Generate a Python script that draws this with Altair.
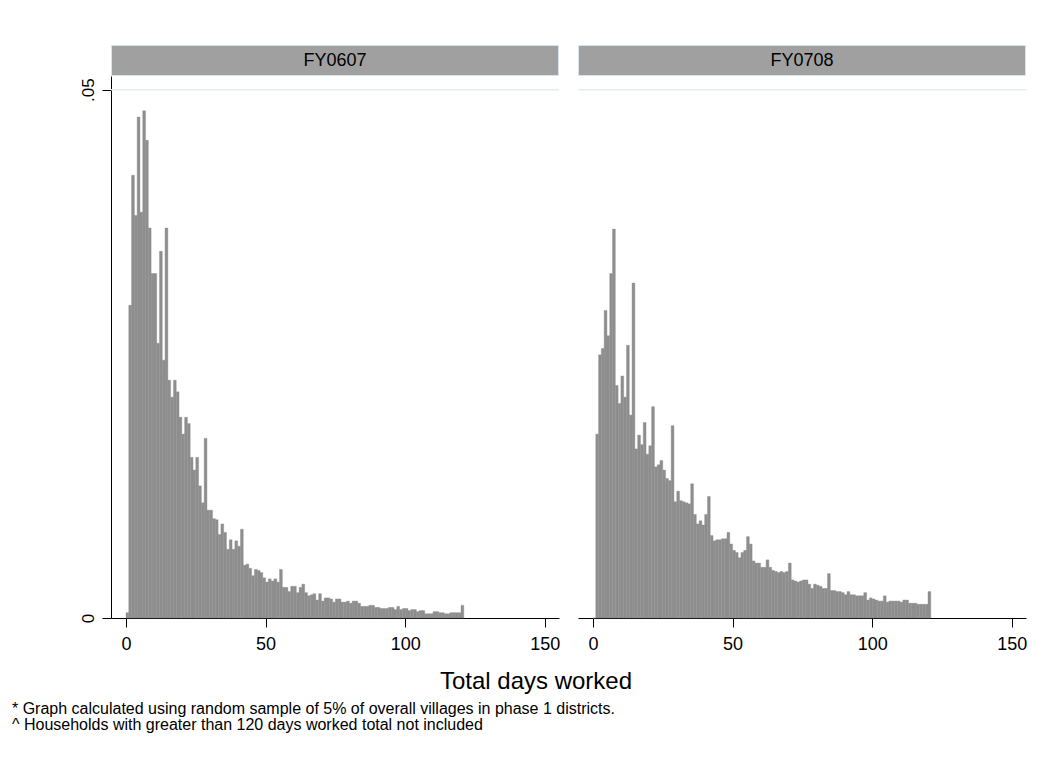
import altair as alt
import pandas as pd

days = list(range(121))
panels = ["FY0607", "FY0708"]

fy0607 = [
    0.0005, 0.0296, 0.0419, 0.0381, 0.0474, 0.0384, 0.0480, 0.0452, 0.0369, 0.0326,
    0.0326, 0.0260, 0.0347, 0.0244, 0.0369, 0.0225, 0.0209, 0.0225, 0.0214, 0.0190,
    0.0174, 0.0190, 0.0184, 0.0152, 0.0140, 0.0152, 0.0125, 0.0109, 0.0170, 0.0102,
    0.0102, 0.0094, 0.0093, 0.0079, 0.0089, 0.0081, 0.0065, 0.0074, 0.0065, 0.0073,
    0.0068, 0.0084, 0.0050, 0.0051, 0.0047, 0.0040, 0.0046, 0.0045, 0.0043, 0.0038,
    0.0034, 0.0037, 0.0035, 0.0037, 0.0034, 0.0046, 0.0029, 0.0029, 0.0025, 0.0030,
    0.0030, 0.0024, 0.0029, 0.0032, 0.0024, 0.0021, 0.0022, 0.0023, 0.0017, 0.0023,
    0.0016, 0.0019, 0.0019, 0.0018, 0.0015, 0.0018, 0.0018, 0.0015, 0.0015, 0.0016,
    0.0014, 0.0016, 0.0016, 0.0014, 0.0011, 0.0011, 0.0011, 0.0012, 0.0012, 0.0010,
    0.0010, 0.0009, 0.0009, 0.0009, 0.0010, 0.0010, 0.0008, 0.0011, 0.0008, 0.0009,
    0.0009, 0.0007, 0.0008, 0.0008, 0.0006, 0.0007, 0.0007, 0.0004, 0.0004, 0.0004,
    0.0006, 0.0006, 0.0005, 0.0005, 0.0004, 0.0004, 0.0005, 0.0005, 0.0005, 0.0005,
    0.0012,
]

fy0708 = [
    0.0000, 0.0174, 0.0249, 0.0255, 0.0291, 0.0267, 0.0326, 0.0368, 0.0220, 0.0203,
    0.0229, 0.0209, 0.0258, 0.0192, 0.0317, 0.0160, 0.0173, 0.0164, 0.0185, 0.0155,
    0.0163, 0.0200, 0.0143, 0.0145, 0.0149, 0.0140, 0.0132, 0.0130, 0.0182, 0.0110,
    0.0120, 0.0111, 0.0110, 0.0109, 0.0108, 0.0127, 0.0098, 0.0089, 0.0092, 0.0088,
    0.0098, 0.0115, 0.0078, 0.0073, 0.0074, 0.0074, 0.0075, 0.0075, 0.0081, 0.0070,
    0.0064, 0.0062, 0.0057, 0.0062, 0.0064, 0.0077, 0.0070, 0.0054, 0.0052, 0.0052,
    0.0048, 0.0048, 0.0055, 0.0048, 0.0045, 0.0044, 0.0043, 0.0044, 0.0043, 0.0044,
    0.0052, 0.0036, 0.0035, 0.0034, 0.0035, 0.0036, 0.0036, 0.0032, 0.0028, 0.0032,
    0.0031, 0.0030, 0.0028, 0.0028, 0.0042, 0.0026, 0.0026, 0.0025, 0.0025, 0.0024,
    0.0022, 0.0025, 0.0022, 0.0022, 0.0021, 0.0021, 0.0021, 0.0024, 0.0017, 0.0019,
    0.0018, 0.0017, 0.0016, 0.0016, 0.0021, 0.0015, 0.0016, 0.0016, 0.0016, 0.0016,
    0.0015, 0.0017, 0.0017, 0.0014, 0.0014, 0.0014, 0.0013, 0.0013, 0.0013, 0.0013,
    0.0025,
]

x_ticks = [0, 50, 100, 150]
y_ticks = [0, 0.05]
x_title = "Total days worked"
notes = [
    "* Graph calculated using random sample of 5% of overall villages in phase 1 districts.",
    "^ Households with greater than 120 days worked total not included",
]

W, H = 448, 542
FONT = "Liberation Sans"
BAR = "#8e8e8e"
STRIP = "#a0a0a0"
GRID = "#e6edf1"

xscale = alt.Scale(domain=[-5.37, 155.1], nice=False, zero=False)
yscale = alt.Scale(domain=[0, 0.05129], nice=False)

xaxis = alt.Axis(
    values=x_ticks, title=None, grid=False, labelFont=FONT, labelFontSize=18,
    labelColor="black", tickColor="black", domainColor="black", tickSize=9,
    labelPadding=8, labelFlush=False, labelOverlap=False,
)


def text_layer(txt, x, y, size, align="center"):
    return alt.Chart(pd.DataFrame({"t": [txt]})).mark_text(
        font=FONT, fontSize=size, color="black", align=align, baseline="middle"
    ).encode(x=alt.value(x), y=alt.value(y), text="t:N")


def panel(name, vals, show_y, extras=None):
    df = pd.DataFrame({"start": days, "end": [d + 1 for d in days], "density": vals})
    if show_y:
        yaxis = alt.Axis(
            values=y_ticks, labelExpr="datum.value == 0 ? '0' : '.05'",
            labelAngle=270, labelAlign="center", labelBaseline="bottom",
            labelFont=FONT, labelFontSize=17, labelColor="black", labelPadding=5,
            tickSize=9, tickColor="black", domainColor="black", grid=False, title=None,
        )
    else:
        yaxis = None
    bars = alt.Chart(df).mark_rect(color=BAR, stroke=BAR, strokeWidth=0.4).encode(
        x=alt.X("start:Q", scale=xscale, axis=xaxis),
        x2="end:Q",
        y=alt.Y("density:Q", scale=yscale, axis=yaxis),
        y2=alt.datum(0),
    )
    grid = alt.Chart(pd.DataFrame({"g": [0.05]})).mark_rule(color=GRID, strokeWidth=1.5).encode(
        y=alt.Y("g:Q", scale=yscale, axis=yaxis), x=alt.value(0), x2=alt.value(W)
    )
    strip = alt.Chart(pd.DataFrame({"t": [name]})).mark_rect(
        fill=STRIP, stroke="#d9e3ea", strokeWidth=1
    ).encode(x=alt.value(0.5), x2=alt.value(W - 0.5), y=alt.value(-30.5), y2=alt.value(-0.5))
    stext = text_layer(name, W / 2, -15, 18)
    layers = [grid, bars, strip, stext]
    if extras:
        layers += extras
    return alt.layer(*layers).properties(width=W, height=H)


extras = [
    text_layer(x_title, 425, 606, 24),
    text_layer(notes[0], -99, 633, 16, "left"),
    text_layer(notes[1], -99, 649, 16, "left"),
]

left = panel(panels[0], fy0607, True, extras)
right = panel(panels[1], fy0708, False)

chart = alt.hconcat(left, right, spacing=19, bounds="flush").properties(
    padding={"left": 4, "top": 37, "right": 5, "bottom": 5},
    background="white",
).configure_view(stroke=None)

chart.save("out.html", embed_options={"renderer": "svg", "actions": False})
